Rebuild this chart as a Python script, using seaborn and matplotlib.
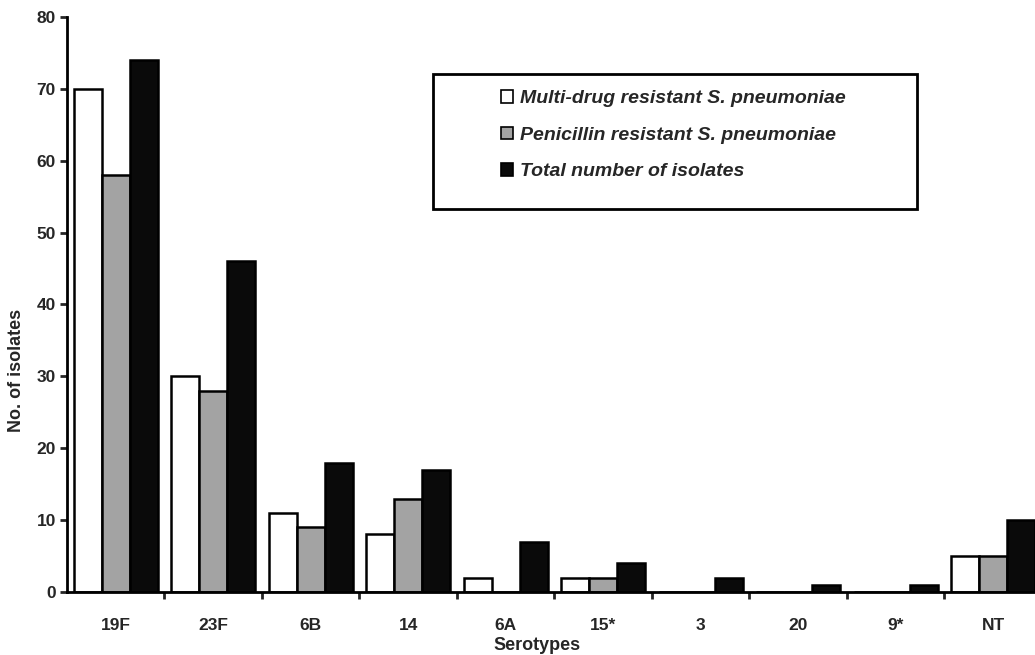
import numpy as np
import pandas as pd
import matplotlib
matplotlib.use('Agg')
import matplotlib.pyplot as plt
import seaborn as sns
from matplotlib.patches import Rectangle

serotypes = ['19F', '23F', '6B', '14', '6A', '15*', '3', '20', '9*', 'NT']
series_names = ['Multi-drug resistant S. pneumoniae',
                'Penicillin resistant S. pneumoniae',
                'Total number of isolates']
multi_drug = [70, 30, 11, 8, 2, 2, 0, 0, 0, 5]
penicillin = [58, 28, 9, 13, 0, 2, 0, 0, 0, 5]
total = [74, 46, 18, 17, 7, 4, 2, 1, 1, 10]
bar_colours = ['#ffffff', '#a3a3a3', '#0a0a0a']

df = pd.DataFrame({
    'Serotypes': serotypes * 3,
    'series': np.repeat(series_names, len(serotypes)),
    'count': multi_drug + penicillin + total,
})

sns.set_style('ticks')
plt.rcParams['font.family'] = ['Liberation Sans', 'DejaVu Sans']
plt.rcParams['font.weight'] = 'bold'

fig = plt.figure(figsize=(10.35, 6.55), dpi=100)
ax = fig.add_axes([0.0647, 0.0962, 0.9353, 0.878])

sns.barplot(data=df, x='Serotypes', y='count', hue='series',
            hue_order=series_names, palette=bar_colours, width=0.86,
            edgecolor='black', linewidth=1.8, ax=ax, legend=False)

ax.set_xlim(-0.5, 9.43)
ax.set_ylim(0, 80)
ax.set_yticks(range(0, 81, 10))
ax.set_xticks(np.arange(0.5, 9.0, 1.0), minor=True)

sns.despine(ax=ax)
for s in ('left', 'bottom'):
    ax.spines[s].set_linewidth(2)
    ax.spines[s].set_color('black')

ax.tick_params(axis='y', direction='out', length=5, width=2, labelsize=12.5, pad=3)
ax.tick_params(axis='x', which='major', length=0, labelsize=12.5, pad=19)
ax.tick_params(axis='x', which='minor', direction='out', length=5, width=2)

ax.set_xlabel('Serotypes', fontsize=13, fontweight='bold')
ax.set_ylabel('No. of isolates', fontsize=13, fontweight='bold')
ax.xaxis.set_label_coords(0.486, -0.078)
ax.yaxis.set_label_coords(-0.043, 0.386)

# legend box
fig.patches.append(Rectangle((433 / 1035, 1 - 209 / 655), 484 / 1035, 135 / 655,
                             transform=fig.transFigure, facecolor='white',
                             edgecolor='black', linewidth=2, zorder=5))
handles = [Rectangle((0, 0), 1, 1, facecolor=c, edgecolor='black', linewidth=1.2)
           for c in bar_colours]
leg = fig.legend(handles, series_names, loc='upper left',
                 bbox_to_anchor=(501 / 1035, 1 - 90 / 655), frameon=False,
                 borderpad=0, borderaxespad=0, handlelength=0.62,
                 handleheight=0.62, handletextpad=0.35, labelspacing=1.0,
                 prop={'size': 14, 'weight': 'bold', 'style': 'italic'})
leg.set_zorder(6)

fig.savefig('out.png', dpi=100)
